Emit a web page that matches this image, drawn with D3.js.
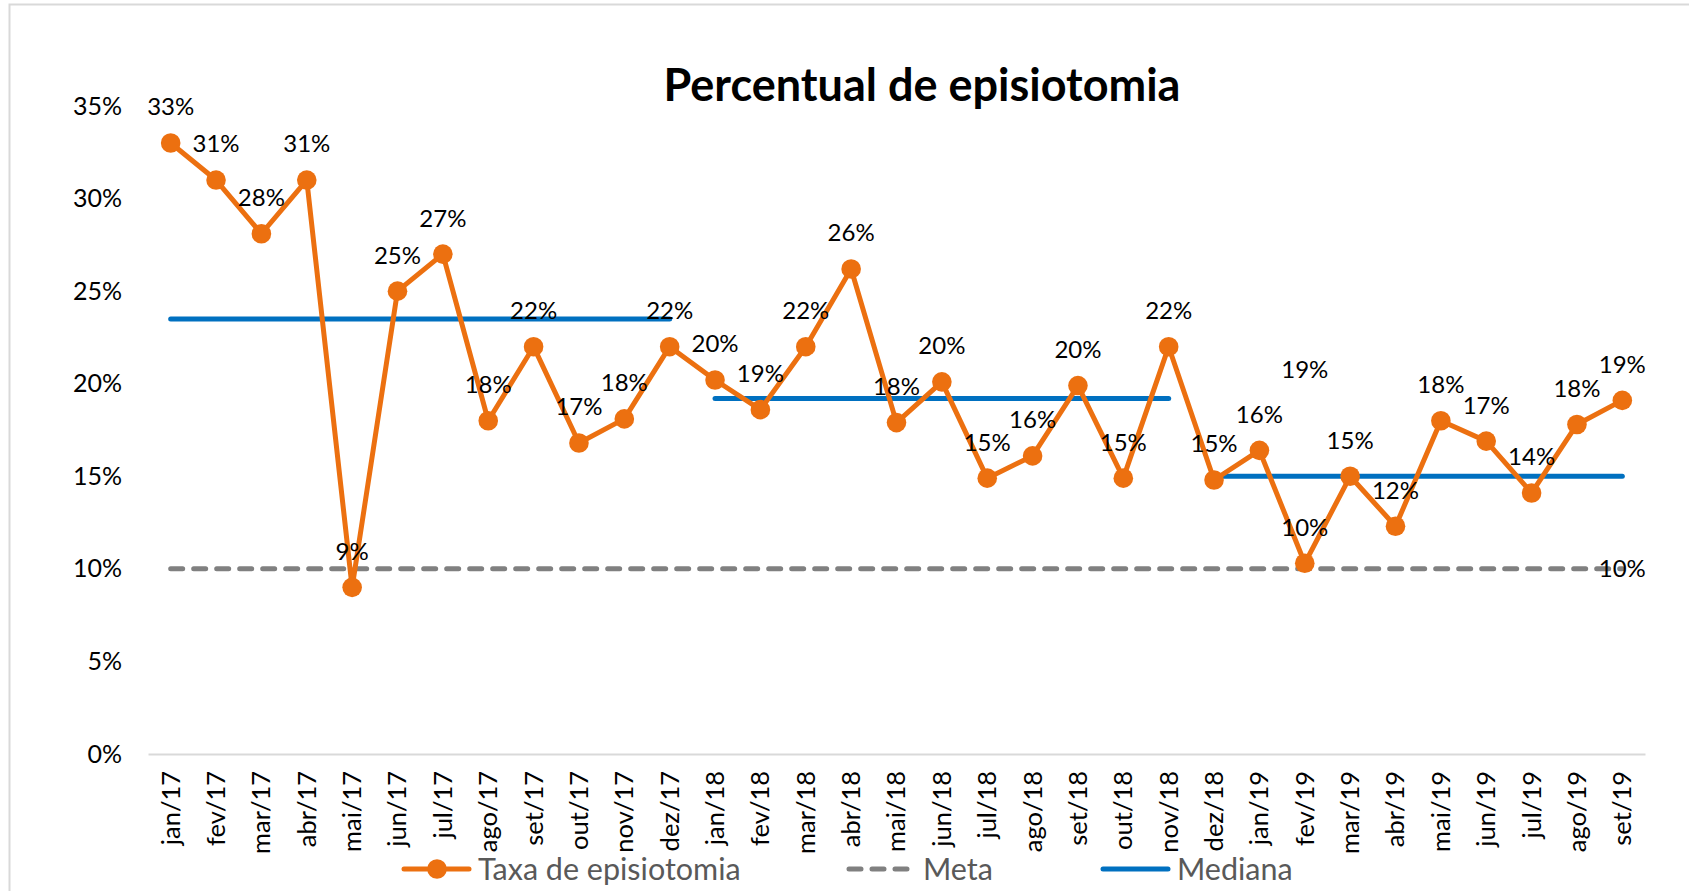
<!DOCTYPE html>
<html>
<head>
<meta charset="utf-8">
<script src="https://cdn.jsdelivr.net/npm/d3@7"></script>
<style>
  html, body { margin: 0; padding: 0; background: #ffffff; }
  svg { display: block; font-family: Lato, "Noto Sans", sans-serif; }
</style>
</head>
<body>
<div id="chart"></div>
<script>
const width = 1689;
const height = 891;

// data
const months = ["jan/17", "fev/17", "mar/17", "abr/17", "mai/17", "jun/17", "jul/17", "ago/17",
  "set/17", "out/17", "nov/17", "dez/17", "jan/18", "fev/18", "mar/18", "abr/18", "mai/18",
  "jun/18", "jul/18", "ago/18", "set/18", "out/18", "nov/18", "dez/18", "jan/19", "fev/19",
  "mar/19", "abr/19", "mai/19", "jun/19", "jul/19", "ago/19", "set/19"];
const taxa = [0.330, 0.310, 0.281, 0.310, 0.090, 0.250, 0.270, 0.180, 0.220, 0.168, 0.181,
  0.220, 0.202, 0.186, 0.220, 0.262, 0.179, 0.201, 0.149, 0.161, 0.199, 0.149, 0.220,
  0.148, 0.164, 0.103, 0.150, 0.123, 0.180, 0.169, 0.141, 0.178, 0.191];
const meta = 0.10;
const medianas = [
  { from: "jan/17", to: "dez/17", value: 0.235 },
  { from: "jan/18", to: "nov/18", value: 0.192 },
  { from: "dez/18", to: "set/19", value: 0.150 }
];
// a loose label left in the original sheet
const strayLabels = [{ month: "fev/19", value: 0.188, text: "19%" }];
const yTicks = [0, 0.05, 0.10, 0.15, 0.20, 0.25, 0.30, 0.35];

const COLORS = { taxa: "#EC7010", meta: "#808080", mediana: "#0070C0", axis: "#D9D9D9", legend: "#595959" };

const svg = d3.select("#chart").append("svg")
  .attr("width", width)
  .attr("height", height);

// chart frame
svg.append("rect")
  .attr("x", 9.5).attr("y", 4.5)
  .attr("width", width + 20).attr("height", height + 20)
  .attr("fill", "#fff")
  .attr("stroke", COLORS.axis)
  .attr("stroke-width", 2);

const x = d3.scaleBand().domain(months).range([148, 1645]).padding(0);
const cx = m => x(m) + x.bandwidth() / 2;
const y = d3.scaleLinear().domain([0, 0.35]).range([754, 106]);
const pct = d3.format(".0%");

// title
svg.append("text")
  .attr("x", 922).attr("y", 101)
  .attr("text-anchor", "middle")
  .attr("font-size", 45).attr("font-weight", "bold")
  .attr("fill", "#000")
  .text("Percentual de episiotomia");

// y axis (labels only)
const yAxis = svg.append("g")
  .attr("transform", "translate(122,0)")
  .call(d3.axisLeft(y).tickValues(yTicks).tickFormat(pct).tickSize(0).tickPadding(0));
yAxis.select(".domain").remove();
yAxis.selectAll("text").attr("font-size", 25).attr("fill", "#000").attr("font-family", "Lato");

// x axis
const xAxis = svg.append("g")
  .attr("transform", "translate(0,754)")
  .call(d3.axisBottom(x).tickSize(0).tickPadding(0));
xAxis.select(".domain").attr("stroke", COLORS.axis).attr("stroke-width", 2);
xAxis.selectAll("text")
  .attr("font-size", 25.5).attr("fill", "#000").attr("font-family", "Lato")
  .attr("text-anchor", "end")
  .attr("transform", "translate(0,17) rotate(-90)")
  .attr("x", 0).attr("y", 0).attr("dy", "0.35em");

// meta line
svg.append("line")
  .attr("x1", cx(months[0])).attr("x2", cx(months[months.length - 1]))
  .attr("y1", y(meta)).attr("y2", y(meta))
  .attr("stroke", COLORS.meta).attr("stroke-width", 5)
  .attr("stroke-dasharray", "12 11").attr("stroke-linecap", "round");

// median segments
svg.append("g").selectAll("line")
  .data(medianas)
  .join("line")
  .attr("x1", d => cx(d.from)).attr("x2", d => cx(d.to))
  .attr("y1", d => y(d.value)).attr("y2", d => y(d.value))
  .attr("stroke", COLORS.mediana).attr("stroke-width", 5)
  .attr("stroke-linecap", "round");

// taxa series
const series = months.map((m, i) => ({ m: m, v: taxa[i] }));
svg.append("path")
  .datum(series)
  .attr("fill", "none")
  .attr("stroke", COLORS.taxa)
  .attr("stroke-width", 5)
  .attr("stroke-linejoin", "round")
  .attr("d", d3.line().x(d => cx(d.m)).y(d => y(d.v)));

svg.append("g").selectAll("circle")
  .data(series)
  .join("circle")
  .attr("cx", d => cx(d.m)).attr("cy", d => y(d.v))
  .attr("r", 9.8)
  .attr("fill", COLORS.taxa);

// data labels
svg.append("g").selectAll("text")
  .data(series.map(d => ({ m: d.m, v: d.v, t: pct(d.v) })).concat(strayLabels.map(d => ({ m: d.month, v: d.value, t: d.text }))))
  .join("text")
  .attr("x", d => cx(d.m)).attr("y", d => y(d.v) - 36)
  .attr("dy", "0.35em")
  .attr("text-anchor", "middle")
  .attr("font-size", 24).attr("fill", "#000")
  .text(d => d.t);

// meta label at last point
svg.append("text")
  .attr("x", cx(months[months.length - 1])).attr("y", y(meta))
  .attr("dy", "0.35em").attr("text-anchor", "middle")
  .attr("font-size", 24).attr("fill", "#000")
  .text(pct(meta));

// legend
const legend = svg.append("g").attr("transform", "translate(0,869)");
const legendItems = [
  { name: "Taxa de episiotomia", x: 401, color: COLORS.taxa, dash: null, marker: true },
  { name: "Meta", x: 846, color: COLORS.meta, dash: "12 11", marker: false },
  { name: "Mediana", x: 1100, color: COLORS.mediana, dash: null, marker: false }
];
legendItems.forEach(it => {
  legend.append("line")
    .attr("x1", it.x + 3).attr("x2", it.x + 68)
    .attr("y1", 0).attr("y2", 0)
    .attr("stroke", it.color).attr("stroke-width", 5)
    .attr("stroke-linecap", "round")
    .attr("stroke-dasharray", it.dash);
  if (it.marker) {
    legend.append("circle").attr("cx", it.x + 36).attr("cy", 0).attr("r", 9.8).attr("fill", it.color);
  }
  legend.append("text")
    .attr("x", it.x + 77).attr("y", 0).attr("dy", "0.35em")
    .attr("font-size", 30.5).attr("fill", COLORS.legend)
    .text(it.name);
});
</script>
</body>
</html>
